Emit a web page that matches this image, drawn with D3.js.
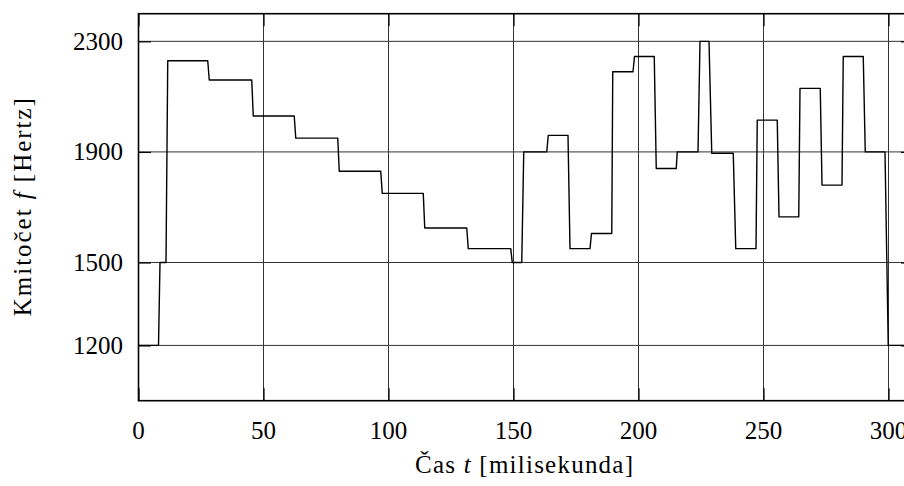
<!DOCTYPE html>
<html>
<head>
<meta charset="utf-8">
<script src="https://cdn.jsdelivr.net/npm/d3@7/dist/d3.min.js"></script>
<style>
  html, body { margin: 0; padding: 0; background: #fff; }
  svg { display: block; }
  text { font-family: "Liberation Serif", "Times New Roman", serif; fill: #000; }
</style>
</head>
<body>
<svg id="chart" width="904" height="486"></svg>
<script>
// ---- data ----
const timeMs = [0, 8, 8.6, 11, 11.7, 27.7, 28.3, 45.3, 45.9, 62.3, 62.9, 79.7, 80.3, 96.9, 97.5, 113.9,
  114.5, 131.3, 131.9, 148.9, 149.5, 153.3, 154.1, 163.3, 163.9, 171.8, 172.6, 180.6, 181.2, 189.3,
  189.7, 197.8, 198.4, 206.3, 207.1, 215.1, 215.5, 223.8, 224.6, 228.2, 229.3, 237.9, 238.9, 247,
  247.5, 255.5, 256.2, 264.1, 264.6, 272.7, 273.4, 281.4, 281.9, 289.9, 290.7, 298.6, 299.9, 310];
const freqHz = [1200, 1200, 1500, 1500, 2230, 2230, 2160, 2160, 2030, 2030, 1950, 1950, 1830, 1830, 1750, 1750,
  1625, 1625, 1550, 1550, 1500, 1500, 1900, 1900, 1960, 1960, 1550, 1550, 1605, 1605,
  2190, 2190, 2245, 2245, 1840, 1840, 1900, 1900, 2300, 2300, 1895, 1895, 1550, 1550,
  2015, 2015, 1665, 1665, 2130, 2130, 1780, 1780, 2245, 2245, 1900, 1900, 1200, 1200];
const xTicks = [0, 50, 100, 150, 200, 250, 300];
const yTicks = [1200, 1500, 1900, 2300];
const xDomain = [0, 310];
const yDomain = [1000, 2400];
const xTitle = ["Čas ", "t", " [milisekunda]"];
const yTitle = ["Kmitočet ", "f", " [Hertz]"];

// ---- layout ----
const svg = d3.select("#chart");
const pLeft = 138.5, pRight = 913.5, pTop = 13.7, pBottom = 400.7;
const x = d3.scaleLinear().domain(xDomain).range([pLeft, pRight]);
const y = d3.scaleLinear().domain(yDomain).range([pBottom, pTop]);
const tickLen = 12.5;
const fs = 25;

// grid
const grid = svg.append("g").attr("stroke", "#333").attr("stroke-width", 1);
xTicks.filter(d => d > 0).forEach(d => {
  grid.append("line").attr("x1", x(d)).attr("x2", x(d)).attr("y1", pTop).attr("y2", pBottom);
});
yTicks.forEach(d => {
  grid.append("line").attr("x1", pLeft).attr("x2", pRight).attr("y1", y(d)).attr("y2", y(d));
});

// ticks (all four sides, inward) using d3 axes
const axB = svg.append("g").attr("transform", `translate(0,${pBottom})`)
  .call(d3.axisBottom(x).tickValues(xTicks).tickSize(-tickLen).tickFormat(""));
const axT = svg.append("g").attr("transform", `translate(0,${pTop})`)
  .call(d3.axisTop(x).tickValues(xTicks).tickSize(-tickLen).tickFormat(""));
const axL = svg.append("g").attr("transform", `translate(${pLeft},0)`)
  .call(d3.axisLeft(y).tickValues(yTicks).tickSize(-tickLen).tickFormat(""));
const axR = svg.append("g").attr("transform", `translate(${pRight},0)`)
  .call(d3.axisRight(y).tickValues(yTicks).tickSize(-tickLen).tickFormat(""));
[axB, axT, axL, axR].forEach(g => {
  g.select(".domain").remove();
  g.selectAll(".tick line").attr("stroke", "#000").attr("stroke-width", 1.2);
});

// tick labels
svg.append("g").selectAll("text").data(xTicks).join("text")
  .attr("x", d => x(d)).attr("y", 439)
  .attr("text-anchor", "middle").attr("font-size", fs)
  .text(d => d);
svg.append("g").selectAll("text").data(yTicks).join("text")
  .attr("x", 123).attr("y", d => y(d) + 8.5)
  .attr("text-anchor", "end").attr("font-size", fs)
  .text(d => d);

// data line
const line = d3.line().x((d, i) => x(timeMs[i])).y((d, i) => y(freqHz[i]));
svg.append("path").datum(freqHz)
  .attr("d", line)
  .attr("fill", "none").attr("stroke", "#000").attr("stroke-width", 1.4)
  .attr("stroke-linejoin", "round");

// frame
svg.append("rect").attr("x", pLeft).attr("y", pTop)
  .attr("width", pRight - pLeft).attr("height", pBottom - pTop)
  .attr("fill", "none").attr("stroke", "#000").attr("stroke-width", 1.6);

// axis titles
const xt = svg.append("text").attr("x", 524).attr("y", 473)
  .attr("text-anchor", "middle").attr("font-size", fs)
  .attr("textLength", 218).attr("lengthAdjust", "spacing");
xTitle.forEach((s, i) => xt.append("tspan").text(s).attr("font-style", i === 1 ? "italic" : null));

const yt = svg.append("text")
  .attr("transform", `translate(31,${(pTop + pBottom) / 2}) rotate(-90)`)
  .attr("text-anchor", "middle").attr("font-size", fs)
  .attr("textLength", 218).attr("lengthAdjust", "spacing");
yTitle.forEach((s, i) => yt.append("tspan").text(s).attr("font-style", i === 1 ? "italic" : null));
</script>
</body>
</html>
